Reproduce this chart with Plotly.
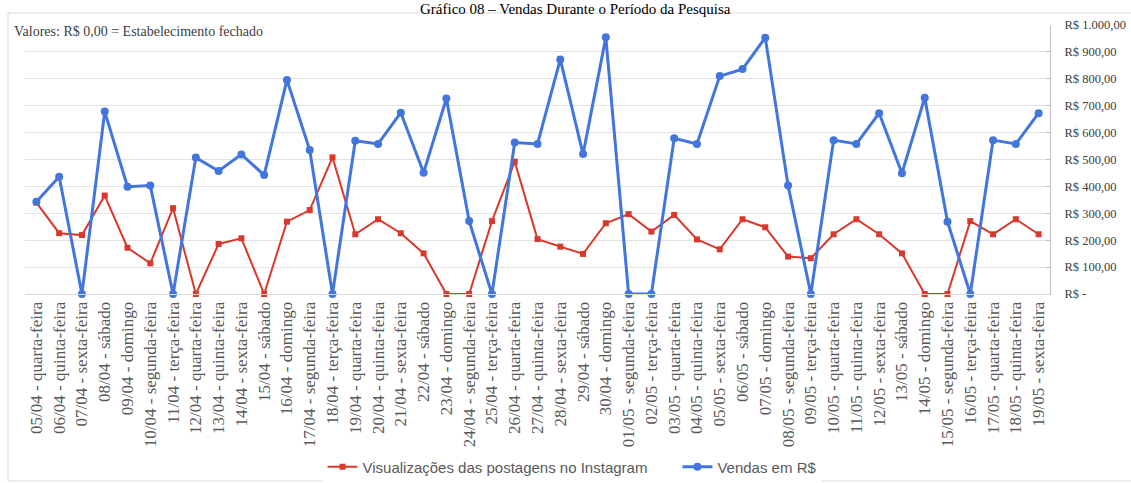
import plotly.graph_objects as go

# Daily labels of the survey period
datas = [
    "05/04 - quarta-feira", "06/04 - quinta-feira", "07/04 - sexta-feira", "08/04 - sábado",
    "09/04 - domingo", "10/04 - segunda-feira", "11/04 - terça-feira", "12/04 - quarta-feira",
    "13/04 - quinta-feira", "14/04 - sexta-feira", "15/04 - sábado", "16/04 - domingo",
    "17/04 - segunda-feira", "18/04 - terça-feira", "19/04 - quarta-feira", "20/04 - quinta-feira",
    "21/04 - sexta-feira", "22/04 - sábado", "23/04 - domingo", "24/04 - segunda-feira",
    "25/04 - terça-feira", "26/04 - quarta-feira", "27/04 - quinta-feira", "28/04 - sexta-feira",
    "29/04 - sábado", "30/04 - domingo", "01/05 - segunda-feira", "02/05 - terça-feira",
    "03/05 - quarta-feira", "04/05 - quinta-feira", "05/05 - sexta-feira", "06/05 - sábado",
    "07/05 - domingo", "08/05 - segunda-feira", "09/05 - terça-feira", "10/05 - quarta-feira",
    "11/05 - quinta-feira", "12/05 - sexta-feira", "13/05 - sábado", "14/05 - domingo",
    "15/05 - segunda-feira", "16/05 - terça-feira", "17/05 - quarta-feira", "18/05 - quinta-feira",
    "19/05 - sexta-feira",
]

# Instagram post views per day
visualizacoes = [
    340, 226, 219, 366, 172, 114, 319, 0, 186, 207, 0, 269, 312, 508, 222,
    278, 226, 151, 0, 0, 271, 492, 204, 176, 149, 263, 297, 232, 294, 203,
    166, 278, 248, 139, 133, 222, 278, 222, 151, 0, 0, 271, 222, 278, 222,
]

# Daily sales in R$ (0 = closed)
vendas = [
    343, 436, 0, 678, 399, 403, 0, 507, 457, 519, 442, 796, 535, 0, 570,
    558, 674, 451, 727, 271, 0, 563, 558, 872, 520, 954, 0, 0, 579, 558,
    810, 836, 953, 403, 0, 572, 558, 672, 449, 730, 269, 0, 572, 558, 672,
]

# Right axis ticks
y_ticks = [0, 100, 200, 300, 400, 500, 600, 700, 800, 900, 1000]
y_tick_text = ["R$ -", "R$ 100,00", "R$ 200,00", "R$ 300,00", "R$ 400,00", "R$ 500,00",
               "R$ 600,00", "R$ 700,00", "R$ 800,00", "R$ 900,00", "R$ 1.000,00"]

W, H = 1131, 483
L, R, T, B = 25, 81, 25, 189
PW, PH = W - L - R, H - T - B


def px_x(px):
    return (px - L) / PW


def px_y(py):
    return (H - B - py) / PH


RED = "#D9382C"
BLUE = "#4275DD"
SERIF = "Liberation Serif"
GAP = "\u00a0" * 6

fig = go.Figure()
fig.add_trace(go.Scatter(
    x=datas, y=visualizacoes, mode="lines+markers",
    name="Visualizações das postagens no Instagram" + GAP,
    line=dict(color=RED, width=2),
    marker=dict(symbol="square", size=6, color=RED),
    cliponaxis=False,
))
fig.add_trace(go.Scatter(
    x=datas, y=vendas, mode="lines+markers", name="Vendas em R$",
    line=dict(color=BLUE, width=3),
    marker=dict(symbol="circle", size=8, color=BLUE),
    cliponaxis=False,
))

fig.update_layout(
    width=W, height=H,
    margin=dict(l=L, r=R, t=T, b=B, autoexpand=False),
    paper_bgcolor="white", plot_bgcolor="white",
    showlegend=True,
    legend=dict(
        orientation="h", x=px_x(572), xanchor="center", y=px_y(467), yanchor="middle",
        font=dict(family="Liberation Sans", size=15, color="#595959"),
        itemwidth=30, traceorder="normal",
    ),
    xaxis=dict(
        type="category", range=[-0.5, len(datas) - 0.5],
        tickangle=-90, tickfont=dict(family=SERIF, size=17, color="#595959"),
        showgrid=False, showline=True, linecolor="#d9d9d9", ticks="",
        fixedrange=True, automargin=False,
    ),
    yaxis=dict(
        side="right", range=[0, 1000], tickvals=y_ticks, ticktext=y_tick_text,
        tickfont=dict(family=SERIF, size=12.5, color="#404040"),
        showgrid=True, gridcolor="#e3e3e3", gridwidth=1, zeroline=False,
        showline=True, linecolor="#bfbfbf", ticks="inside", ticklen=4, tickcolor="#bfbfbf",
        ticklabelstandoff=11, automargin=False,
    ),
)

# Chart frame
fig.add_shape(type="rect", xref="paper", yref="paper",
              x0=px_x(8), x1=px_x(1140), y0=px_y(13), y1=px_y(481),
              line=dict(color="#d9d9d9", width=1), layer="below")
# Blank band behind the note
fig.add_shape(type="rect", xref="paper", yref="paper",
              x0=px_x(22), x1=px_x(503), y0=px_y(36), y1=px_y(20),
              fillcolor="white", line=dict(width=0), layer="between")

fig.add_annotation(
    text="Gráfico 08 – Vendas Durante o Período da Pesquisa",
    xref="paper", yref="paper", x=px_x(575), y=px_y(-1),
    xanchor="center", yanchor="top", showarrow=False,
    font=dict(family=SERIF, size=15, color="#000000"),
)
fig.add_annotation(
    text="Valores: R$ 0,00 = Estabelecimento fechado",
    xref="paper", yref="paper", x=px_x(12), y=px_y(32),
    xanchor="left", yanchor="middle", showarrow=False,
    font=dict(family=SERIF, size=14, color="#404040"),
)

fig.write_html("out.html")
